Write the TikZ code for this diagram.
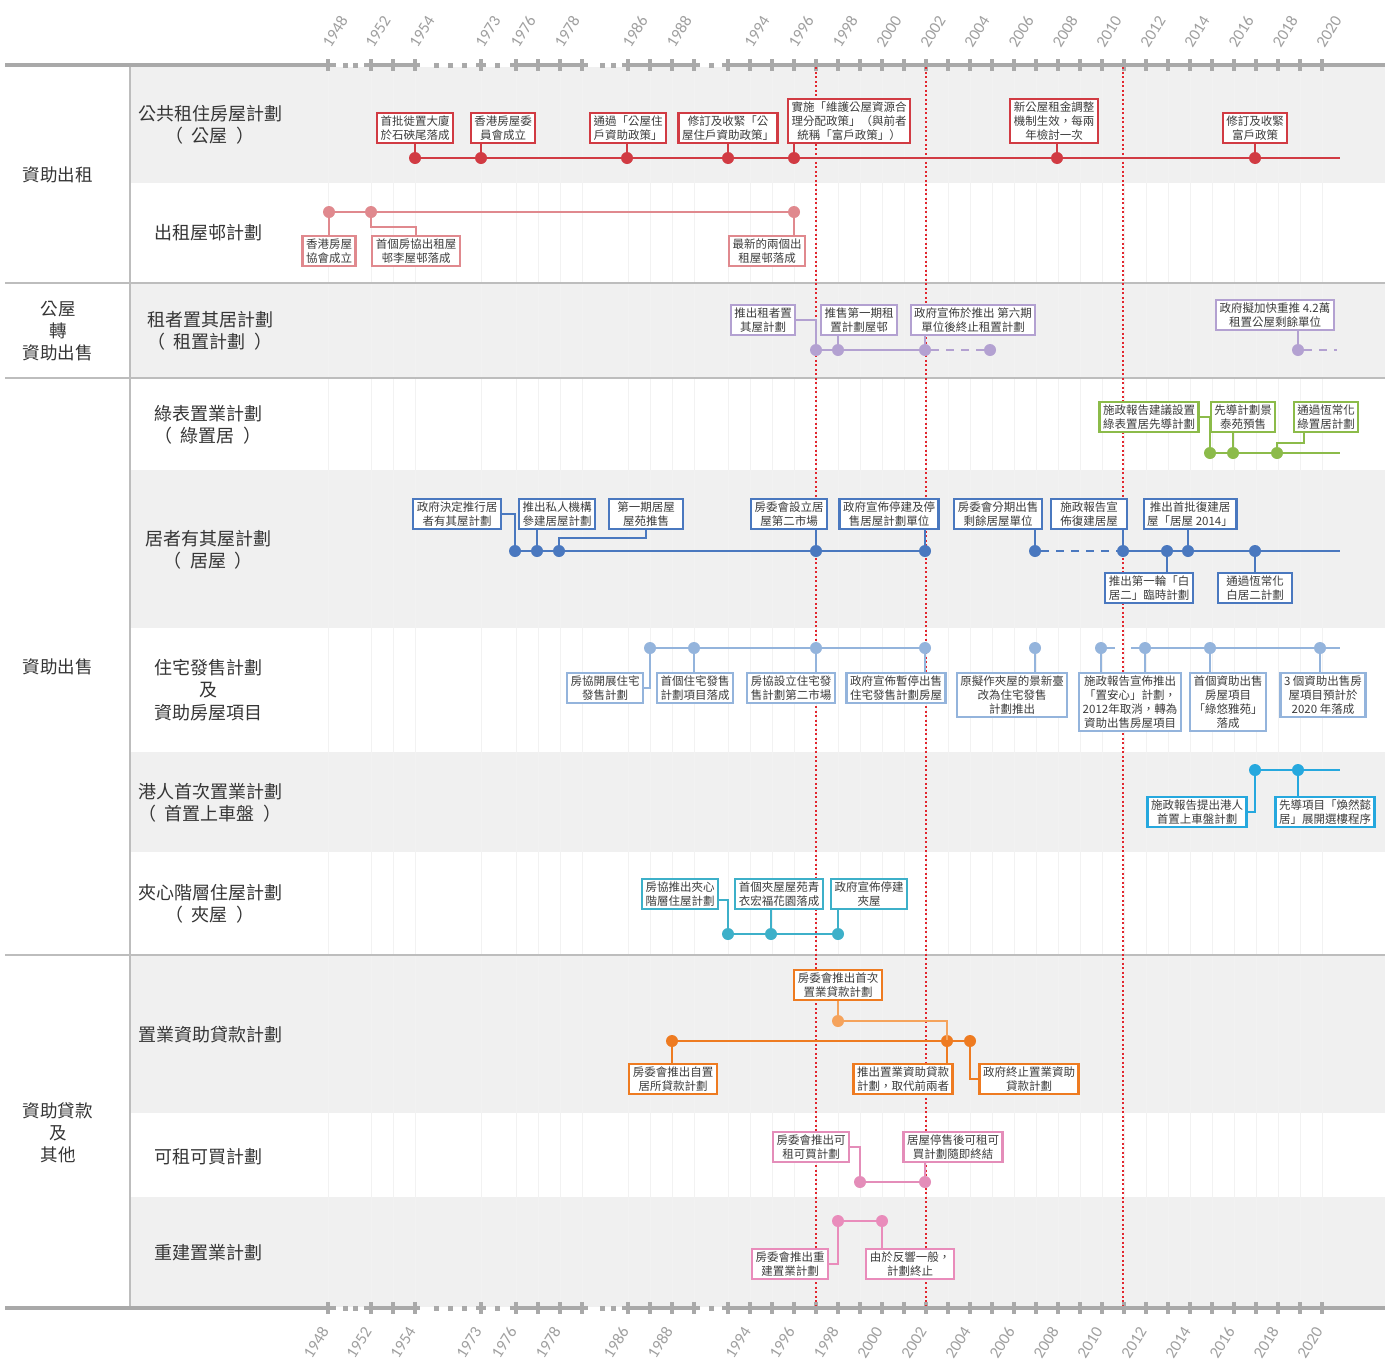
\documentclass[tikz,border=0pt]{standalone}
\usepackage{fontspec}
\setmainfont{Noto Sans CJK TC}
\newfontfamily\yrfont{Carlito}
\usetikzlibrary{calc}
\definecolor{txtc}{HTML}{3C3C3C}
\definecolor{labc}{HTML}{353535}
\definecolor{bandc}{HTML}{F0F0F0}
\definecolor{sepc}{HTML}{BDBDBD}
\definecolor{axc}{HTML}{A9A9A9}
\definecolor{yrc}{HTML}{A0A0A0}
\definecolor{hlred}{HTML}{E2262E}
\definecolor{cPub}{HTML}{D13B43}
\definecolor{cEst}{HTML}{E0898E}
\definecolor{cTps}{HTML}{B3A1D1}
\definecolor{cGrn}{HTML}{8CBB4A}
\definecolor{cHos}{HTML}{4A78BF}
\definecolor{cFfs}{HTML}{94B4DC}
\definecolor{cSsf}{HTML}{26A8DE}
\definecolor{cSand}{HTML}{3DB0C9}
\definecolor{cLoan}{HTML}{EE7B21}
\definecolor{cLoanL}{HTML}{F5A35C}
\definecolor{cRtp}{HTML}{E48DB9}
\definecolor{cReb}{HTML}{E98CBB}

% bracketed second line of a scheme label
\newcommand\brk[1]{（\hspace{0.45em}#1\hspace{0.45em}）}

\newcommand\timeaxis[1]{%
  \foreach \a/\b in {5/336,364/420,476/486,510/588,622/700,722/1385}
    \draw[axc, line width=4pt] (\a,#1) -- (\b,#1);
  \foreach \s in {345,355,436,450,464,497,602,613,711}
    \fill[axc] (\s-2.5,#1-2.5) rectangle (\s+2.5,#1+2.5);
  \foreach \t in {328,371,393,415,481,516,538,560,582,628,650,672,694,728,750,...,1322}
    \fill[axc] (\t-1.7,#1-6) rectangle (\t+1.7,#1+6);
}

\begin{document}
\begin{tikzpicture}[x=1pt,y=-1pt,
  evbox/.style={draw=#1, line width=2.4pt, fill=white, inner xsep=3.5pt, inner ysep=2.5pt,
    align=center, font=\fontsize{11.5}{14}\selectfont, text=txtc},
  tl/.style={draw=#1, line width=2.4pt},
  dotn/.style={circle, fill=#1, draw=none, minimum size=12pt, inner sep=0pt},
  rowlab/.style={align=center, font=\fontsize{18}{22.5}\selectfont, text=labc},
  grplab/.style={align=center, font=\fontsize{17.5}{22}\selectfont, text=labc},
  yrlab/.style={font=\yrfont\fontsize{16.5}{17}\selectfont, text=yrc, inner sep=0pt},
  dsh/.style={dash pattern=on 8pt off 7pt},
  hldot/.style={hlred, dash pattern=on 2pt off 2.5pt},
]
\useasboundingbox (0,0) rectangle (1387,1363);
\fill[white] (0,0) rectangle (1387,1363);

% shaded bands
\foreach \ya/\yb in {67/183,283/378,470/628,752/852,955/1113,1197/1307}
  \fill[bandc] (130,\ya) rectangle (1385,\yb);
% faint year grid
\foreach \t in {328,371,393,415,481,516,538,560,582,628,650,672,694,728,750,...,1322}
  \draw[black!5, line width=0.8pt] (\t,67) -- (\t,1306);

% group separators
\draw[sepc, line width=1.6pt] (5,283) -- (1385,283);
\draw[sepc, line width=1.6pt] (5,378) -- (1385,378);
\draw[sepc, line width=1.6pt] (5,955) -- (1385,955);
\draw[sepc, line width=1.4pt] (130,67) -- (130,1306);

% time axes
\timeaxis{65}
\timeaxis{1308}
\foreach \yr/\t in {1948/328,1952/371,1954/415,1973/481,1976/516,1978/560,1986/628,1988/672,1994/750,1996/794,1998/838,2000/882,2002/926,2004/970,2006/1014,2008/1058,2010/1102,2012/1146,2014/1190,2016/1234,2018/1278,2020/1322}{
  \node[yrlab, rotate=58, anchor=west] (ty\yr) at (\t-2,46) {\yr};
  \node[yrlab, rotate=58, anchor=east] (by\yr) at (\t-3,1328) {\yr};
}

% milestone years
\draw[hldot, line width=2pt] (816,67) -- (816,1306);
\draw[hldot, line width=1.3pt] (926,67) -- (926,1306);
\draw[hldot, line width=2pt] (1123,67) -- (1123,1306);

% group labels
\node[grplab] (g1) at (58,175) {資助出租};
\node[grplab] (g2) at (58,331) {公屋\\轉\\資助出售};
\node[grplab] (g3) at (58,667) {資助出售};
\node[grplab] (g4) at (58,1133) {資助貸款\\及\\其他};

% scheme labels
\node[rowlab] (l1) at (210,125) {公共租住房屋計劃\\\brk{公屋}};
\node[rowlab] (l2) at (208,233) {出租屋邨計劃};
\node[rowlab] (l3) at (210,331) {租者置其居計劃\\\brk{租置計劃}};
\node[rowlab] (l4) at (208,425) {綠表置業計劃\\\brk{綠置居}};
\node[rowlab] (l5) at (208,550) {居者有其屋計劃\\\brk{居屋}};
\node[rowlab] (l6) at (208,690) {住宅發售計劃\\及\\資助房屋項目};
\node[rowlab] (l7) at (210,803) {港人首次置業計劃\\\brk{首置上車盤}};
\node[rowlab] (l8) at (210,904) {夾心階層住屋計劃\\\brk{夾屋}};
\node[rowlab] (l9) at (210,1035) {置業資助貸款計劃};
\node[rowlab] (l10) at (208,1157) {可租可買計劃};
\node[rowlab] (l11) at (208,1253) {重建置業計劃};

% ---- public rental housing
\coordinate (r1e) at (1340,158);
\foreach \i/\x in {1/415,2/481,3/627,4/728,5/794,6/1057,7/1255}
  \node[dotn=cPub] (pd\i) at (\x,158) {};
\draw[tl=cPub] (pd1.center) -- (r1e);
\node[evbox=cPub, anchor=south] (pa1) at (415,144) {首批徙置大廈\\於石硤尾落成};
\node[evbox=cPub, anchor=south] (pa2) at (503,144) {香港房屋委\\員會成立};
\node[evbox=cPub, anchor=south] (pa3) at (628,144) {通過「公屋住\\戶資助政策」};
\node[evbox=cPub, anchor=south] (pa4) at (728,144) {修訂及收緊「公\\屋住戶資助政策」};
\node[evbox=cPub, anchor=south] (pa5) at (849,144) {實施「維護公屋資源合\\理分配政策」（與前者\\統稱「富戶政策」）};
\node[evbox=cPub, anchor=south] (pa6) at (1054,144) {新公屋租金調整\\機制生效，每兩\\年檢討一次};
\node[evbox=cPub, anchor=south] (pa7) at (1255,144) {修訂及收緊\\富戶政策};
\foreach \i in {1,...,7}
  \draw[tl=cPub] (pd\i |- pa\i.south) -- (pd\i.center);

% ---- rental estates
\node[dotn=cEst] (qd1) at (329,212) {};
\node[dotn=cEst] (qd2) at (371,212) {};
\node[dotn=cEst] (qd3) at (794,212) {};
\draw[tl=cEst] (qd1.center) -- (qd3.center);
\node[evbox=cEst, anchor=north] (qb1) at (329,235) {香港房屋\\協會成立};
\node[evbox=cEst, anchor=north] (qb2) at (416,235) {首個房協出租屋\\邨李屋邨落成};
\node[evbox=cEst, anchor=north] (qb3) at (767,235) {最新的兩個出\\租屋邨落成};
\draw[tl=cEst] (qd1.center) -- (qb1.north);
\draw[tl=cEst] (qd2.center) |- ([yshift=8pt]qb2.north) -- (qb2.north);
\draw[tl=cEst] (qd3.center) -- (qd3 |- qb3.north);

% ---- tenants purchase
\node[dotn=cTps] (rd1) at (816,350) {};
\node[dotn=cTps] (rd2) at (838,350) {};
\node[dotn=cTps] (rd3) at (925,350) {};
\node[dotn=cTps] (rd4) at (990,350) {};
\node[dotn=cTps] (rd5) at (1298,350) {};
\coordinate (r3e) at (1337,350);
\draw[tl=cTps] (rd1.center) -- (rd3.center);
\draw[tl=cTps, dsh] (rd3.east) -- (rd4.west);
\draw[tl=cTps, dsh] (rd5.east) -- (r3e);
\node[evbox=cTps, anchor=south] (rb1) at (763,336) {推出租者置\\其屋計劃};
\node[evbox=cTps, anchor=south] (rb2) at (859,336) {推售第一期租\\置計劃屋邨};
\node[evbox=cTps, anchor=south] (rb3) at (973,336) {政府宣佈於推出 第六期\\單位後終止租置計劃};
\node[evbox=cTps, anchor=south] (rb4) at (1275,331) {政府擬加快重推 4.2萬\\租置公屋剩餘單位};
\draw[tl=cTps] (rb1.east) -| (rd1.center);
\draw[tl=cTps] (rd2 |- rb2.south) -- (rd2.center);
\draw[tl=cTps] (rd3 |- rb3.south) -- (rd3.center);
\draw[tl=cTps] (rd5 |- rb4.south) -- (rd5.center);

% ---- green form
\node[dotn=cGrn] (gd1) at (1210,453) {};
\node[dotn=cGrn] (gd2) at (1233,453) {};
\node[dotn=cGrn] (gd3) at (1277,453) {};
\coordinate (r4e) at (1340,453);
\draw[tl=cGrn] (gd1.center) -- (r4e);
\node[evbox=cGrn, anchor=south] (gb1) at (1149,433) {施政報告建議設置\\綠表置居先導計劃};
\node[evbox=cGrn, anchor=south] (gb2) at (1243,433) {先導計劃景\\泰苑預售};
\node[evbox=cGrn, anchor=south] (gb3) at (1326,433) {通過恆常化\\綠置居計劃};
\draw[tl=cGrn] (gb1.east) -| (gd1.center);
\draw[tl=cGrn] (gd2 |- gb2.south) -- (gd2.center);
\draw[tl=cGrn] (gd3.center) -- ++(0,-10) -| ([xshift=-22pt]gb3.south);

% ---- home ownership scheme
\foreach \i/\x in {1/515,2/537,3/559,4/816,5/925,6/1035,7/1123,8/1167,9/1188,10/1255}
  \node[dotn=cHos] (hd\i) at (\x,551) {};
\coordinate (r5e) at (1340,551);
\draw[tl=cHos] (hd1.center) -- (hd5.center);
\draw[tl=cHos, dsh] (hd6.east) -- (hd7.west);
\draw[tl=cHos] (hd7.center) -- (r5e);
\node[evbox=cHos, anchor=south] (hb1) at (457,530) {政府決定推行居\\者有其屋計劃};
\node[evbox=cHos, anchor=south] (hb2) at (557,530) {推出私人機構\\參建居屋計劃};
\node[evbox=cHos, anchor=south, minimum width=74pt] (hb3) at (646,530) {第一期居屋\\屋苑推售};
\node[evbox=cHos, anchor=south] (hb4) at (789,530) {房委會設立居\\屋第二市場};
\node[evbox=cHos, anchor=south] (hb5) at (889,530) {政府宣佈停建及停\\售居屋計劃單位};
\node[evbox=cHos, anchor=south] (hb6) at (998,530) {房委會分期出售\\剩餘居屋單位};
\node[evbox=cHos, anchor=south, minimum width=76pt] (hb7) at (1089,530) {施政報告宣\\佈復建居屋};
\node[evbox=cHos, anchor=south] (hb8) at (1190,530) {推出首批復建居\\屋「居屋 2014」};
\node[evbox=cHos, anchor=north] (hb9) at (1149,572) {推出第一輪「白\\居二」臨時計劃};
\node[evbox=cHos, anchor=north, minimum width=74pt] (hb10) at (1255,572) {通過恆常化\\白居二計劃};
\draw[tl=cHos] (hb1.east) -| (hd1.center);
\draw[tl=cHos] (hd2 |- hb2.south) -- (hd2.center);
\draw[tl=cHos] (hd3.center) |- ([yshift=-8pt]hb3.south) -- (hb3.south);
\draw[tl=cHos] (hd4 |- hb4.south) -- (hd4.center);
\draw[tl=cHos] (hd5 |- hb5.south) -- (hd5.center);
\draw[tl=cHos] (hd6 |- hb6.south) -- (hd6.center);
\draw[tl=cHos] (hd7 |- hb7.south) -- (hd7.center);
\draw[tl=cHos] (hd9 |- hb8.south) -- (hd9.center);
\draw[tl=cHos] (hd8.center) -- (hd8 |- hb9.north);
\draw[tl=cHos] (hd10.center) -- (hd10 |- hb10.north);

% ---- flat-for-sale and subsidised sale projects
\foreach \i/\x in {1/650,2/694,3/816,4/925,5/1035,6/1101,7/1145,8/1210,9/1320}
  \node[dotn=cFfs] (fd\i) at (\x,648) {};
\coordinate (r6e) at (1340,648);
\draw[tl=cFfs] (fd1.center) -- (fd4.center);
\draw[tl=cFfs, dash pattern=on 14pt off 16pt] (fd6.center) -- (fd7.center);
\draw[tl=cFfs] (fd7.center) -- (r6e);
\node[evbox=cFfs, anchor=north] (fb1) at (605,672) {房協開展住宅\\發售計劃};
\node[evbox=cFfs, anchor=north] (fb2) at (695,672) {首個住宅發售\\計劃項目落成};
\node[evbox=cFfs, anchor=north] (fb3) at (791,672) {房協設立住宅發\\售計劃第二市場};
\node[evbox=cFfs, anchor=north] (fb4) at (896,672) {政府宣佈暫停出售\\住宅發售計劃房屋};
\node[evbox=cFfs, anchor=north] (fb5) at (1012,672) {原擬作夾屋的景新臺\\改為住宅發售\\計劃推出};
\node[evbox=cFfs, anchor=north] (fb6) at (1130,672) {施政報告宣佈推出\\「置安心」計劃，\\2012年取消，轉為\\資助出售房屋項目};
\node[evbox=cFfs, anchor=north] (fb7) at (1228,672) {首個資助出售\\房屋項目\\「綠悠雅苑」\\落成};
\node[evbox=cFfs, anchor=north] (fb8) at (1323,672) {3 個資助出售房\\屋項目預計於\\2020 年落成};
\draw[tl=cFfs] (fd1.center) |- (fb1.east);
\draw[tl=cFfs] (fd2.center) -- (fd2 |- fb2.north);
\draw[tl=cFfs] (fd3.center) -- (fd3 |- fb3.north);
\draw[tl=cFfs] (fd4.center) -- (fd4 |- fb4.north);
\draw[tl=cFfs] (fd5.center) -- (fd5 |- fb5.north);
\draw[tl=cFfs] (fd6.center) -- (fd6 |- fb6.north);
\draw[tl=cFfs] (fd7.center) -- (fd7 |- fb6.north);
\draw[tl=cFfs] (fd8.center) -- (fd8 |- fb7.north);
\draw[tl=cFfs] (fd9.center) -- (fd9 |- fb8.north);

% ---- starter homes
\node[dotn=cSsf] (sd1) at (1255,770) {};
\node[dotn=cSsf] (sd2) at (1298,770) {};
\coordinate (r7e) at (1340,770);
\draw[tl=cSsf] (sd1.center) -- (r7e);
\node[evbox=cSsf, anchor=north] (sb1) at (1197,796) {施政報告提出港人\\首置上車盤計劃};
\node[evbox=cSsf, anchor=north] (sb2) at (1325,796) {先導項目「煥然懿\\居」展開選樓程序};
\draw[tl=cSsf] (sd1.center) |- (sb1.east);
\draw[tl=cSsf] (sd2.center) -- (sd2 |- sb2.north);

% ---- sandwich class housing
\node[dotn=cSand] (td1) at (728,934) {};
\node[dotn=cSand] (td2) at (771,934) {};
\node[dotn=cSand] (td3) at (838,934) {};
\draw[tl=cSand] (td1.center) -- (td3.center);
\node[evbox=cSand, anchor=south] (tb1) at (680,910) {房協推出夾心\\階層住屋計劃};
\node[evbox=cSand, anchor=south] (tb2) at (779,910) {首個夾屋屋苑青\\衣宏福花園落成};
\node[evbox=cSand, anchor=south] (tb3) at (869,910) {政府宣佈停建\\夾屋};
\draw[tl=cSand] (td1.center) |- ([yshift=-6pt]tb1.east);
\draw[tl=cSand] (td2 |- tb2.south) -- (td2.center);
\draw[tl=cSand] (td3 |- tb3.south) -- (td3.center);

% ---- home purchase loans
\node[dotn=cLoanL] (ud0) at (838,1021) {};
\node[dotn=cLoan] (ud1) at (672,1041) {};
\node[dotn=cLoan] (ud2) at (947,1041) {};
\node[dotn=cLoan] (ud3) at (970,1041) {};
\draw[tl=cLoanL] (ud0.center) -| (ud2.center);
\draw[tl=cLoan] (ud1.center) -- (ud3.center);
\node[evbox=cLoan, anchor=south] (ub0) at (838,1001) {房委會推出首次\\置業貸款計劃};
\node[evbox=cLoan, anchor=north] (ub1) at (673,1063) {房委會推出自置\\居所貸款計劃};
\node[evbox=cLoan, anchor=north] (ub2) at (903,1063) {推出置業資助貸款\\計劃，取代前兩者};
\node[evbox=cLoan, anchor=north] (ub3) at (1029,1063) {政府終止置業資助\\貸款計劃};
\draw[tl=cLoanL] (ud0 |- ub0.south) -- (ud0.center);
\draw[tl=cLoan] (ud1.center) -- (ud1 |- ub1.north);
\draw[tl=cLoan] (ud2.center) -- (ud2 |- ub2.north);
\draw[tl=cLoan] (ud3.center) |- (ub3.west);

% ---- rent and buy
\node[dotn=cRtp] (vd1) at (860,1182) {};
\node[dotn=cRtp] (vd2) at (925,1182) {};
\draw[tl=cRtp] (vd1.center) -- (vd2.center);
\node[evbox=cRtp, anchor=south] (vb1) at (811,1163) {房委會推出可\\租可買計劃};
\node[evbox=cRtp, anchor=south] (vb2) at (953,1163) {居屋停售後可租可\\買計劃隨即終結};
\draw[tl=cRtp] (vb1.east) -| (vd1.center);
\draw[tl=cRtp] (vd2 |- vb2.south) -- (vd2.center);

% ---- redevelopment purchase
\node[dotn=cReb] (wd1) at (838,1221) {};
\node[dotn=cReb] (wd2) at (882,1221) {};
\draw[tl=cReb] (wd1.center) -- (wd2.center);
\node[evbox=cReb, anchor=north] (wb1) at (790,1248) {房委會推出重\\建置業計劃};
\node[evbox=cReb, anchor=north] (wb2) at (910,1248) {由於反響一般，\\計劃終止};
\draw[tl=cReb] (wd1.center) |- (wb1.east);
\draw[tl=cReb] (wd2.center) -- (wd2 |- wb2.north);
\end{tikzpicture}
\end{document}
